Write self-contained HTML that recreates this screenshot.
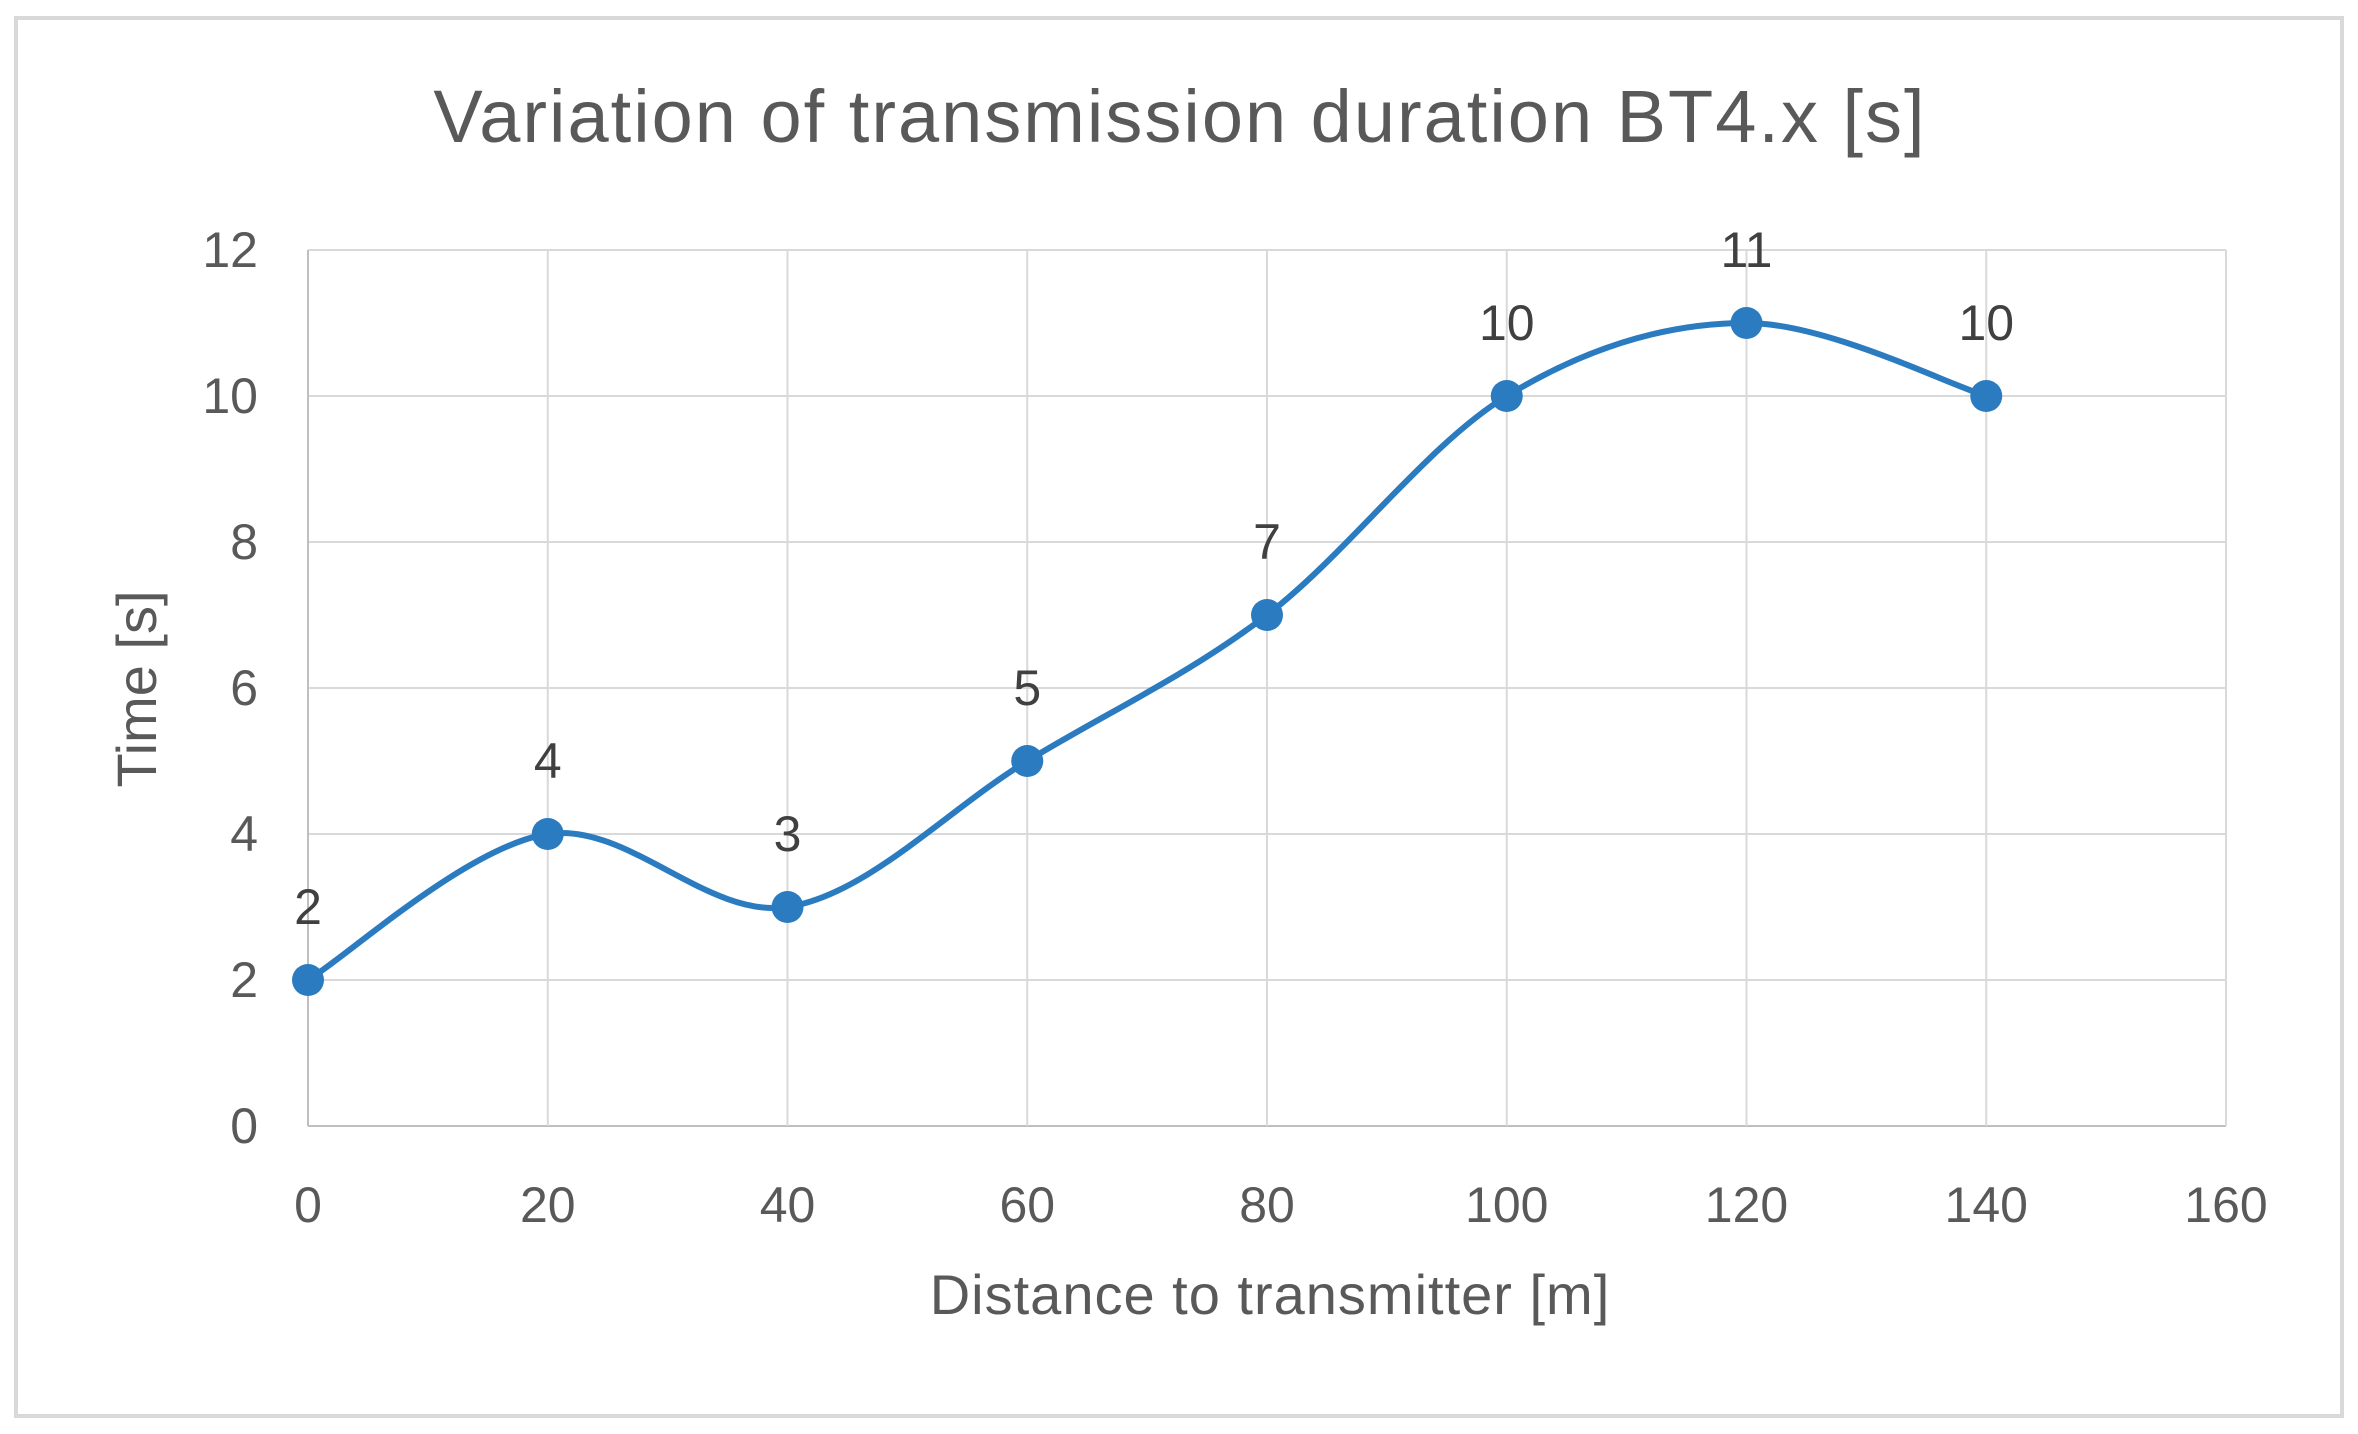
<!DOCTYPE html>
<html><head><meta charset="utf-8"><style>
body{margin:0;background:#fff}
svg{display:block;font-family:"Liberation Sans",sans-serif}
</style></head><body>
<svg id="c" width="2358" height="1434">
<rect x="16" y="18" width="2326" height="1398" fill="#fff" stroke="#d9d9d9" stroke-width="4"/>
<text x="1180" y="142" font-size="74" fill="#595959" text-anchor="middle" letter-spacing="2">Variation of transmission duration BT4.x [s]</text>
<g id="grid"></g>
<g id="series"></g>
<text x="1270" y="1314" font-size="56" fill="#595959" text-anchor="middle" letter-spacing="1">Distance to transmitter [m]</text>
<text transform="translate(156,689) rotate(-90)" font-size="56" fill="#595959" text-anchor="middle">Time [s]</text>
</svg>
<script>
const xVals=[0,20,40,60,80,100,120,140];
const yVals=[2,4,3,5,7,10,11,10];
const xTicks=[0,20,40,60,80,100,120,140,160];
const yTicks=[0,2,4,6,8,10,12];
const NS="http://www.w3.org/2000/svg";
const L=308,R=2226,T=250,B=1126;
const sx=v=>L+(v-0)/(160-0)*(R-L);
const sy=v=>B-(v-0)/(12-0)*(B-T);
function mk(tag,attrs,parent){const e=document.createElementNS(NS,tag);for(const k in attrs)e.setAttribute(k,attrs[k]);parent.appendChild(e);return e;}
const grid=document.getElementById('grid'),ser=document.getElementById('series');
yTicks.forEach(t=>{
 const l=mk('line',{x1:L,x2:R,y1:sy(t),y2:sy(t),stroke:t===0?'#bfbfbf':'#d9d9d9','stroke-width':2},grid);
 
 
 const tx=mk('text',{x:258,y:sy(t)+17,'font-size':50,fill:'#595959','text-anchor':'end'},grid);
 tx.textContent=t;
 
 
});
xTicks.forEach(t=>{
 const l=mk('line',{x1:sx(t),x2:sx(t),y1:T,y2:B,stroke:t===0?'#bfbfbf':'#d9d9d9','stroke-width':2},grid);
 
 
 const tx=mk('text',{x:sx(t),y:1222,'font-size':50,fill:'#595959','text-anchor':'middle'},grid);
 tx.textContent=t;
 
 
});
const P=xVals.map((x,i)=>[sx(x),sy(yVals[i])]);
let d=`M${P[0][0]},${P[0][1]}`;
for(let i=0;i<P.length-1;i++){
 const p0=P[Math.max(i-1,0)],p1=P[i],p2=P[i+1],p3=P[Math.min(i+2,P.length-1)];
 const c1=[p1[0]+(p2[0]-p0[0])/6,p1[1]+(p2[1]-p0[1])/6];
 const c2=[p2[0]-(p3[0]-p1[0])/6,p2[1]-(p3[1]-p1[1])/6];
 d+=` C${c1[0]},${c1[1]} ${c2[0]},${c2[1]} ${p2[0]},${p2[1]}`;
}
const path=mk('path',{d:d,fill:'none',stroke:'#2a7bc0','stroke-width':6},ser);


P.forEach((p,i)=>{
 const c=mk('circle',{cx:p[0],cy:p[1],r:16,fill:'#2a7bc0'},ser);
 
 
 const t=mk('text',{x:p[0],y:p[1]-56,'font-size':50,fill:'#404040','text-anchor':'middle'},ser);
 t.textContent=yVals[i];
 
 
});
</script>
</body></html>
